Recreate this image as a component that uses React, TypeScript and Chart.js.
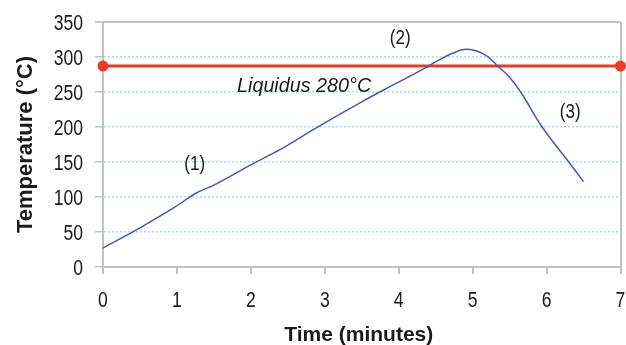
import React, { useEffect, useRef } from "react";
import { Chart, registerables } from "chart.js";

Chart.register(...registerables);

const timeMinutes = [0, 0.5, 0.95, 1.25, 1.5, 2, 2.4, 2.7, 3, 3.5, 3.85, 4.3, 4.5, 4.72, 4.93, 5.17, 5.35, 5.49, 5.65, 5.94, 6.3, 6.5];
const temperatureC = [27, 56, 84, 105, 117, 146, 168, 187, 206, 236, 256, 281, 293, 305, 311, 303, 286, 272, 250, 200, 150, 122];
const liquidusX = [0, 7];
const liquidusY = [287, 287];
const xTicks = [0, 1, 2, 3, 4, 5, 6, 7];
const yTicks = [0, 50, 100, 150, 200, 250, 300, 350];
const xTitle = "Time (minutes)";
const yTitle = "Temperature (°C)";
const noteTexts = ["(1)", "(2)", "(3)", "Liquidus 280°C"];
const noteX = [1.24, 4.02, 6.32, 2.72];
const noteY = [146, 327, 221, 261];
const noteItalic = [false, false, false, true];

const FONT = "'Liberation Sans', Arial, sans-serif";
const GRAY = "#c2c2c2";
const CYAN = "#a8dcea";
const TEXT = "#1a1a1a";

function drawText(ctx: any, text: string, x: number, y: number, font: string, sx: number, align: string, rot = 0) {
  ctx.save();
  ctx.translate(x, y);
  if (rot) ctx.rotate(rot);
  ctx.scale(sx, 1);
  ctx.font = font;
  ctx.textAlign = align;
  ctx.textBaseline = "alphabetic";
  ctx.fillStyle = TEXT;
  ctx.fillText(text, 0, 0);
  ctx.restore();
}

const textPlugin = {
  id: "texts",
  afterDraw(chart: any) {
    const { ctx, scales, chartArea } = chart;
    const xs = scales.x;
    const ys = scales.y;
    yTicks.forEach((v) => {
      drawText(ctx, String(v), chartArea.left - 20, ys.getPixelForValue(v) + 8, `22px ${FONT}`, 0.8, "right");
    });
    xTicks.forEach((v) => {
      drawText(ctx, String(v), xs.getPixelForValue(v), chartArea.bottom + 40, `22px ${FONT}`, 0.8, "center");
    });
    drawText(ctx, xTitle, (chartArea.left + chartArea.right) / 2 - 3, chartArea.bottom + 74, `bold 21px ${FONT}`, 1, "center");
    drawText(ctx, yTitle, 32, (chartArea.top + chartArea.bottom) / 2, `bold 22px ${FONT}`, 1, "center", -Math.PI / 2);
    noteTexts.forEach((t, i) => {
      const px = xs.getPixelForValue(noteX[i]);
      const py = ys.getPixelForValue(noteY[i]);
      if (noteItalic[i]) {
        drawText(ctx, t, px, py + 7.5, `italic 21px ${FONT}`, 0.94, "center");
      } else {
        drawText(ctx, t, px, py + 5.5, `20px ${FONT}`, 0.85, "center");
      }
    });
  },
};

export default function App() {
  const ref = useRef<HTMLCanvasElement>(null);
  useEffect(() => {
    if (!ref.current) return;
    const chart = new Chart(ref.current, {
      type: "line",
      data: {
        datasets: [
          {
            data: timeMinutes.map((x, i) => ({ x, y: temperatureC[i] })),
            borderColor: "#4b56b3",
            borderWidth: 1.5,
            pointRadius: 0,
            tension: 0.4,
            fill: false,
          },
          {
            data: liquidusX.map((x, i) => ({ x, y: liquidusY[i] })),
            borderColor: "#ec3a23",
            backgroundColor: "#ec3a23",
            borderWidth: 3,
            pointRadius: 5.5,
            pointBorderWidth: 0,
            clip: false as any,
          },
        ],
      },
      options: {
        animation: false,
        responsive: true,
        maintainAspectRatio: false,
        layout: { padding: { top: 22, right: 4, left: 0, bottom: 0 } },
        plugins: { legend: { display: false }, tooltip: { enabled: false } },
        scales: {
          x: {
            type: "linear",
            min: 0,
            max: 7,
            afterBuildTicks: (s: any) => {
              s.ticks = xTicks.map((v) => ({ value: v }));
            },
            afterFit: (s: any) => {
              s.height = 78;
            },
            ticks: { display: false },
            grid: {
              color: (c: any) => (c.tick && c.tick.value === 7 ? GRAY : "rgba(0,0,0,0)"),
              tickColor: GRAY,
              tickLength: 7,
              tickWidth: 2,
              lineWidth: 2,
            },
            border: { color: GRAY, width: 2 },
          },
          y: {
            min: 0,
            max: 350,
            afterBuildTicks: (s: any) => {
              s.ticks = yTicks.map((v) => ({ value: v }));
            },
            afterFit: (s: any) => {
              s.width = 103;
            },
            ticks: { display: false },
            grid: {
              color: (c: any) =>
                c.tick && c.tick.value === 350 ? GRAY : c.tick && c.tick.value === 0 ? "rgba(0,0,0,0)" : CYAN,
              tickColor: GRAY,
              tickWidth: 1.5,
              tickBorderDash: [],
              lineWidth: (c: any) => (c.tick && c.tick.value === 350 ? 2 : 1.5),
              tickLength: 8,
            },
            border: {
              color: GRAY,
              width: 2,
              dash: (c: any) => (c.tick && (c.tick.value === 350 || c.tick.value === 0) ? [] : [2, 2]),
            },
          },
        },
      },
      plugins: [textPlugin],
    });
    return () => chart.destroy();
  }, []);
  return (
    <div style={{ position: "fixed", left: 0, top: 0, width: 626, height: 345, background: "#fff" }}>
      <canvas ref={ref} />
    </div>
  );
}
